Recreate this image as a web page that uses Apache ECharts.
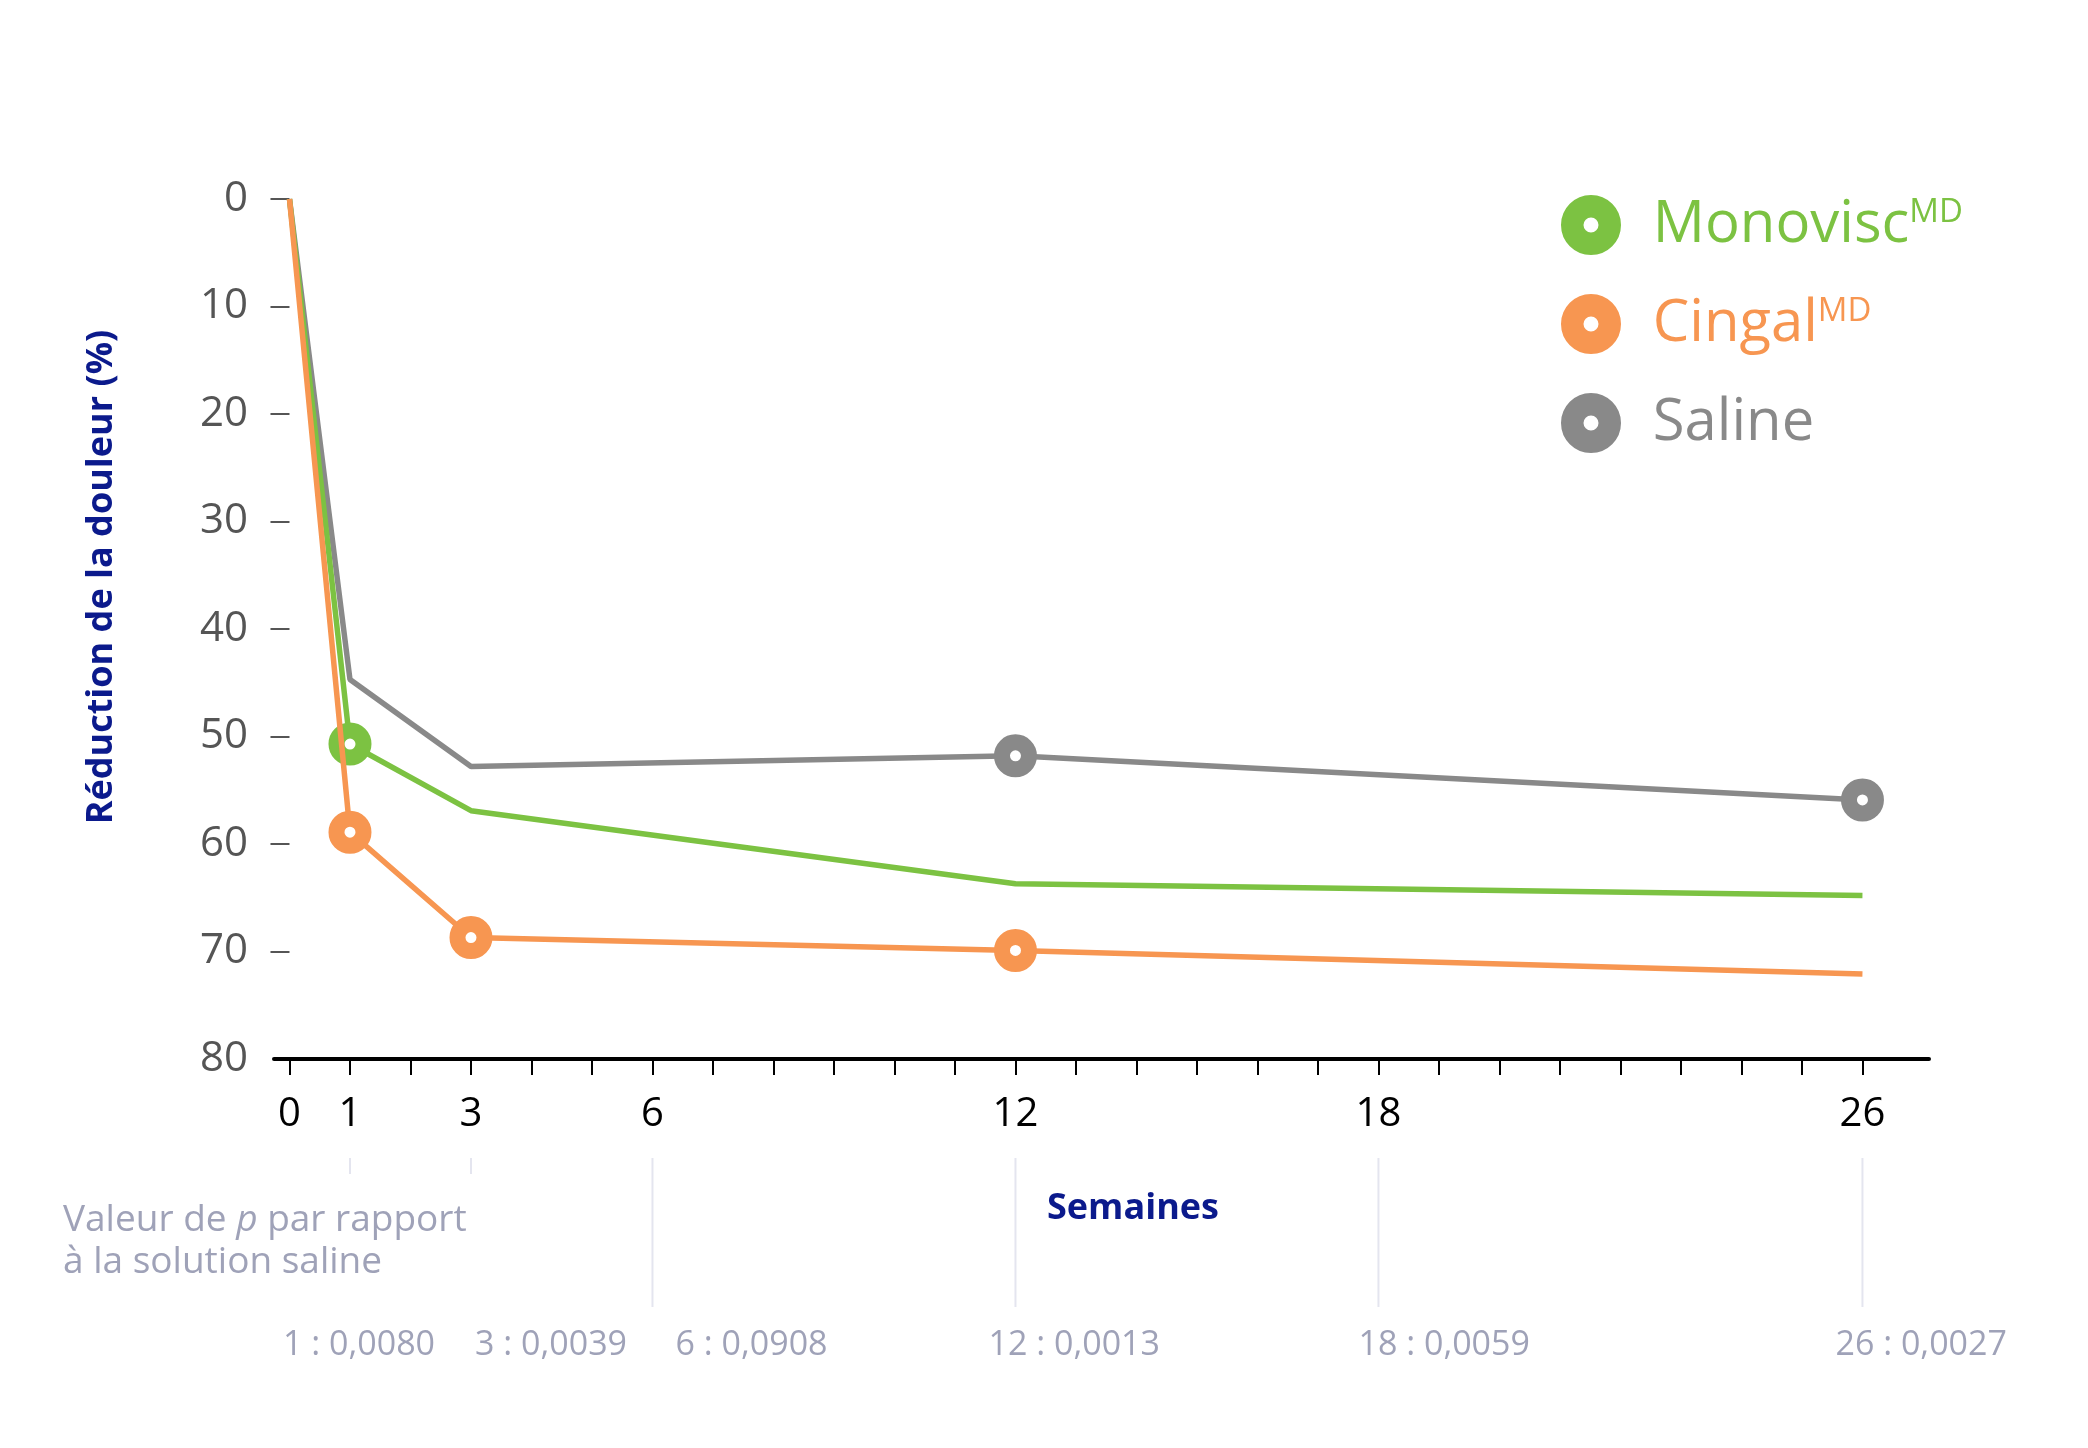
<!DOCTYPE html>
<html><head><meta charset="utf-8">
<script src="https://cdn.jsdelivr.net/npm/echarts@6/dist/echarts.min.js"></script>
<style>html,body{margin:0;padding:0;background:#fff}#c{width:2088px;height:1448px}</style>
</head><body><div id="c"></div>
<script>
// ---- data ----
const weeks = [0, 1, 3, 12, 26];
const monovisc = [0, 50.7, 56.9, 63.7, 64.8];
const cingal = [0, 58.9, 68.7, 69.9, 72.1];
const saline = [0, 44.7, 52.8, 51.8, 55.9];
const monoviscMarked = [false, true, false, false, false];
const cingalMarked = [false, true, true, true, false];
const salineMarked = [false, false, false, true, true];
const seriesNames = ['Monovisc', 'Cingal', 'Saline'];
const seriesSup = ['MD', 'MD', ''];
const xLabelWeeks = [0, 1, 3, 6, 12, 18, 26];
const xTickWeeks = [0, 1, 2, 3, 4, 5, 6, 7, 8, 9, 10, 11, 12, 13, 14, 15, 16, 17, 18, 19, 20, 21, 22, 23, 24, 25, 26];
const yTickValues = [0, 10, 20, 30, 40, 50, 60, 70];
const pWeeks = [1, 3, 6, 12, 18, 26];
const pValues = ['0,0080', '0,0039', '0,0908', '0,0013', '0,0059', '0,0027'];
const shortSepWeeks = [1, 3];
const longSepWeeks = [6, 12, 18, 26];
const yAxisTitle = 'Réduction de la douleur (%)';
const xAxisTitle = 'Semaines';
const pTitle1 = ['Valeur de ', 'p', ' par rapport'];
const pTitle2 = 'à la solution saline';

// ---- style ----
const colors = ['#7cc242', '#f79651', '#898989'];
const navy = '#0b1a8c';
const pColor = '#9fa2b8';
const sepColor = '#e4e5ef';
const FF = 'Open Sans';
const pLabelShift = [-67, 4, 23, -27, -20, -27];

const chart = echarts.init(document.getElementById('c'));

function mkData(vals, marked) {
  return weeks.map((w, i) => ({ value: [w, vals[i]], symbol: marked[i] ? 'circle' : 'none' }));
}
function mkSeries(idx, vals, marked, z) {
  return {
    name: seriesNames[idx], type: 'line', data: mkData(vals, marked), z: z,
    symbolSize: 27, showSymbol: true,
    lineStyle: { color: colors[idx], width: 5.5 },
    itemStyle: { color: '#fff', borderColor: colors[idx], borderWidth: 16 },
    emphasis: { disabled: true }, silent: true
  };
}

const rich = {};
seriesNames.forEach((n, i) => {
  rich['t' + i] = { color: colors[i], fontSize: 58, fontFamily: FF, lineHeight: 58, padding: [0, 0, 0, 38] };
  rich['s' + i] = { color: colors[i], fontSize: 33, fontFamily: FF, lineHeight: 28, verticalAlign: 'top' };
});

chart.setOption({
  animation: false,
  textStyle: { fontFamily: FF },
  grid: { left: 274, right: 159, top: 199, bottom: 389, containLabel: false },
  legend: {
    orient: 'vertical', left: 1561, top: 195, padding: 0, itemGap: 39,
    itemWidth: 37.5, itemHeight: 37.5, selectedMode: false,
    data: seriesNames.map((n, i) => ({ name: n, icon: 'circle',
      itemStyle: { color: '#fff', borderColor: colors[i], borderWidth: 22.5 } })),
    formatter: n => { const i = seriesNames.indexOf(n); return '{t' + i + '|' + n + '}' + (seriesSup[i] ? '{s' + i + '|' + seriesSup[i] + '}' : ''); },
    textStyle: { rich: rich }
  },
  xAxis: {
    type: 'value', min: -0.256, max: 27.1, position: 'bottom',
    axisLine: { show: true, onZero: false, lineStyle: { color: '#000', width: 4 } },
    axisTick: { show: true, customValues: xTickWeeks, length: 16, lineStyle: { color: '#000', width: 2 } },
    axisLabel: { customValues: xLabelWeeks, margin: 36, fontSize: 40, color: '#000', fontFamily: FF },
    splitLine: { show: false }
  },
  yAxis: {
    type: 'value', inverse: true, min: 0, max: 80, interval: 10, offset: -7,
    axisLine: { show: false },
    axisTick: { show: true, customValues: yTickValues, length: 19, lineStyle: { color: '#555', width: 2 } },
    axisLabel: { fontSize: 42, color: '#555', margin: 33, fontFamily: FF },
    splitLine: { show: false }
  },
  series: [
    mkSeries(2, saline, salineMarked, 2),
    mkSeries(0, monovisc, monoviscMarked, 3),
    mkSeries(1, cingal, cingalMarked, 4)
  ]
});

const px = w => chart.convertToPixel({ xAxisIndex: 0 }, w);
const graphics = [];
graphics.push({ type: 'text', x: 102, y: 577, rotation: Math.PI / 2,
  style: { text: yAxisTitle, fontSize: 36, fontWeight: 'bold', fontFamily: FF, fill: navy, align: 'center', verticalAlign: 'middle' } });
graphics.push({ type: 'text', x: 1133, y: 1209,
  style: { text: xAxisTitle, fontSize: 36, fontWeight: 'bold', fontFamily: FF, fill: navy, align: 'center', verticalAlign: 'middle' } });
graphics.push({ type: 'text', x: 63, y: 1220,
  style: { text: '{n|' + pTitle1[0] + '}{i|' + pTitle1[1] + '}{n|' + pTitle1[2] + '}', align: 'left', verticalAlign: 'middle',
    rich: { n: { fontSize: 37, fontFamily: FF, fill: pColor }, i: { fontSize: 37, fontFamily: FF, fill: pColor, fontStyle: 'italic' } } } });
graphics.push({ type: 'text', x: 63, y: 1262,
  style: { text: pTitle2, fontSize: 37, fontFamily: FF, fill: pColor, align: 'left', verticalAlign: 'middle' } });
shortSepWeeks.forEach(w => {
  const x = px(w);
  graphics.push({ type: 'line', shape: { x1: x, y1: 1158, x2: x, y2: 1174 }, style: { stroke: sepColor, lineWidth: 2 } });
});
longSepWeeks.forEach(w => {
  const x = px(w);
  graphics.push({ type: 'line', shape: { x1: x, y1: 1158, x2: x, y2: 1307 }, style: { stroke: sepColor, lineWidth: 2 } });
});
pWeeks.forEach((w, i) => {
  graphics.push({ type: 'text', x: px(w) + pLabelShift[i], y: 1345,
    style: { text: w + ' : ' + pValues[i], fontSize: 34, fontFamily: FF, fill: pColor, align: 'left', verticalAlign: 'middle' } });
});
chart.setOption({ graphic: graphics });
</script>
</body></html>
